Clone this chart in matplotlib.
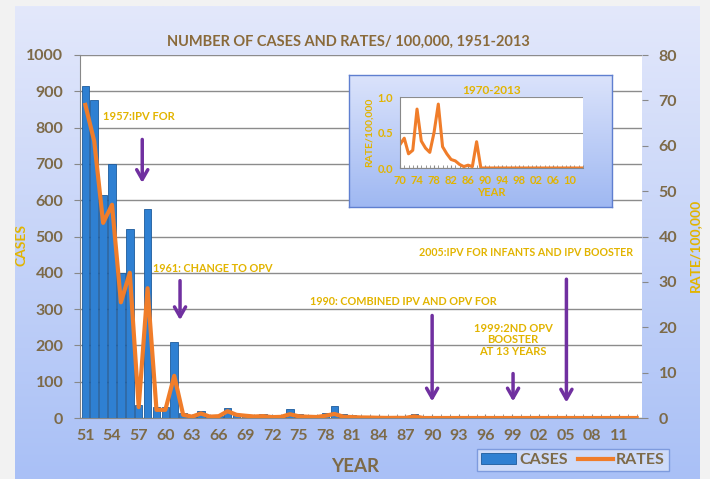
import numpy as np
import matplotlib
matplotlib.use("Agg")
import matplotlib.pyplot as plt
from matplotlib.colors import LinearSegmentedColormap

# --- data -------------------------------------------------------------
years = list(range(1951, 2014))

cases = [915, 875, 615, 700, 400, 520, 36, 575, 30, 30,
         208, 15, 5, 20, 3, 5, 28, 8, 5, 5,
         12, 3, 5, 25, 12, 5, 5, 15, 33, 10,
         8, 5, 3, 2, 1, 2, 2, 12] + [0] * 25

rates = [69, 61, 43, 47, 25.5, 32, 2.4, 28.6, 1.8, 1.8,
         9.3, 0.7, 0.3, 1.0, 0.3, 0.4, 1.5, 0.7, 0.5,
         0.33, 0.42, 0.2, 0.25, 0.83, 0.38, 0.28, 0.22, 0.5, 0.9, 0.3,
         0.2, 0.12, 0.1, 0.05, 0.02, 0.04, 0.02, 0.37] + [0] * 25

inset_years = years[19:]
inset_rates = rates[19:]

main_ticks = list(range(1951, 2014, 3))
main_ticklabels = [str(y)[2:] for y in main_ticks]
inset_ticks = list(range(1970, 2013, 4))
inset_ticklabels = [str(y)[2:] for y in inset_ticks]

# --- style ------------------------------------------------------------
plt.rcParams["font.family"] = ["Lato", "DejaVu Sans"]
plt.rcParams["font.weight"] = "bold"
plt.rcParams["axes.labelweight"] = "bold"
plt.rcParams["axes.titleweight"] = "bold"

BROWN = "#7d6a48"
GOLD = "#e2b400"
PURPLE = "#7030a0"
ORANGE = "#f07d2a"
BLUE = "#2f80d2"

fig = plt.figure(figsize=(7.10, 4.79), dpi=100)
fig.patch.set_facecolor("#f2f2f2")

# gradient background panel
bg = fig.add_axes([15 / 710, 0, 685 / 710, 1 - 6 / 479])
bg.set_axis_off()
grad = np.linspace(0, 1, 256).reshape(-1, 1)
cmap_bg = LinearSegmentedColormap.from_list("bg", ["#e3e8fb", "#a9c0f6"])
bg.imshow(grad, aspect="auto", cmap=cmap_bg, extent=[0, 1, 0, 1])
bg.set_zorder(-10)

# --- main chart -------------------------------------------------------
ax = fig.add_axes([80 / 710, 1 - 418 / 479, 562 / 710, 363 / 479])
ax.set_facecolor("white")
ax.bar(years, cases, width=0.85, color=BLUE, edgecolor="#1d5b9c",
       linewidth=0.6, label="CASES", zorder=2)
ax.set_xlim(1950.4, 2013.6)
ax.set_ylim(0, 1000)
ax.set_yticks(range(0, 1001, 100))
ax.grid(axis="y", color="#8c8c8c", linewidth=1)
ax.set_axisbelow(True)
ax.set_xticks(main_ticks)
ax.set_xticklabels(main_ticklabels)
ax.set_xticks(years, minor=True)
ax.tick_params(axis="x", which="both", direction="in", length=3,
               color="#888888", labelsize=11.5, labelcolor=BROWN, pad=8)
ax.tick_params(axis="y", length=4, color="#888888", labelsize=11.5,
               labelcolor=BROWN, pad=8)
for s in ["top", "right"]:
    ax.spines[s].set_visible(False)
ax.spines["left"].set_color("#888888")
ax.spines["bottom"].set_color("#888888")

ax2 = ax.twinx()
ax2.plot(years, rates, color=ORANGE, linewidth=3, label="RATES", zorder=3)
ax2.set_ylim(0, 80)
ax2.set_yticks(range(0, 81, 10))
ax2.tick_params(axis="y", length=4, color="#888888", labelsize=11.5,
                labelcolor=BROWN, pad=8)
for s in ["top", "left", "bottom", "right"]:
    ax2.spines[s].set_visible(False)

fig.text(22 / 710, 1 - 245 / 479, "CASES", rotation=90, color=GOLD,
         fontsize=10, ha="center", va="center")
fig.text(695 / 710, 1 - 245 / 479, "RATE/100,000", rotation=90, color=GOLD,
         fontsize=10, ha="center", va="center")
fig.text(355 / 710, 1 - 467 / 479, "YEAR", color=BROWN, fontsize=13.5,
         ha="center", va="center")
fig.text(348 / 710, 1 - 42 / 479, "NUMBER OF CASES AND RATES/ 100,000, 1951-2013",
         ha="center", va="center", color="#8a6a3a", fontsize=10.5)

# annotations with arrows
ARROW = dict(arrowstyle="->,head_length=0.7,head_width=0.4", color=PURPLE, lw=2.5)

ax.annotate("", xy=(1957.4, 640), xytext=(1957.4, 775), arrowprops=ARROW)
ax.text(1953.0, 830, "1957:IPV FOR", color=GOLD, fontsize=8, va="center")

ax.annotate("", xy=(1961.65, 262), xytext=(1961.65, 386), arrowprops=ARROW)
ax.text(1958.6, 411, "1961: CHANGE TO OPV", color=GOLD, fontsize=7.8, va="center")

ax.annotate("", xy=(1990, 38), xytext=(1990, 290), arrowprops=ARROW)
ax.text(1976.3, 320, "1990: COMBINED IPV AND OPV FOR", color=GOLD,
        fontsize=7.8, va="center")

ax.annotate("", xy=(1999.1, 38), xytext=(1999.1, 130), arrowprops=ARROW)
ax.text(1999.1, 215, "1999:2ND OPV\nBOOSTER\nAT 13 YEARS", color=GOLD,
        fontsize=8, ha="center", va="center", linespacing=1.1)

ax.annotate("", xy=(2005.1, 35), xytext=(2005.1, 390), arrowprops=ARROW)
ax.text(2000.6, 455, "2005:IPV FOR INFANTS AND IPV BOOSTER", color=GOLD,
        fontsize=7.7, ha="center", va="center")

# legend
h1, l1 = ax.get_legend_handles_labels()
h2, l2 = ax2.get_legend_handles_labels()
leg = fig.legend(h1 + h2, l1 + l2, loc="center",
                 bbox_to_anchor=(573 / 710, 1 - 460 / 479), ncol=2,
                 frameon=True, fontsize=11.5, handlelength=2.2,
                 handletextpad=0.2, columnspacing=0.6,
                 borderpad=0.25, fancybox=False)
leg.get_frame().set_edgecolor("#6f8fd8")
leg.get_frame().set_facecolor("#d8e2fb")
for t in leg.get_texts():
    t.set_color(BROWN)

# --- inset ------------------------------------------------------------
box = fig.add_axes([349 / 710, 1 - 207 / 479, 263 / 710, 132 / 479])
box.set_xticks([])
box.set_yticks([])
cmap_box = LinearSegmentedColormap.from_list("box", ["#dbe3fb", "#9fb8f2"])
box.imshow(grad, aspect="auto", cmap=cmap_box, extent=[0, 1, 0, 1])
for s in box.spines.values():
    s.set_color("#5f7fd0")
    s.set_linewidth(1)

ins = fig.add_axes([400 / 710, 1 - 168 / 479, 183 / 710, 71 / 479])
ins.set_facecolor("white")
ins.plot(inset_years, inset_rates, color=ORANGE, linewidth=2.2)
ins.set_xlim(1970, 2013)
ins.set_ylim(0, 1.0)
ins.set_yticks([0.0, 0.5, 1.0])
ins.set_yticklabels(["0.0", "0.5", "1.0"])
ins.grid(axis="y", color="#8c8c8c", linewidth=0.8)
ins.set_axisbelow(True)
ins.set_xticks(inset_ticks)
ins.set_xticklabels(inset_ticklabels)
ins.set_xticks(inset_years, minor=True)
ins.tick_params(axis="x", which="both", direction="in", length=2,
                color="#888888", labelsize=8, labelcolor=GOLD, pad=5)
ins.tick_params(axis="y", length=0, labelsize=8, labelcolor=GOLD, pad=5)
for s in ["top", "right"]:
    ins.spines[s].set_visible(False)
ins.spines["left"].set_color("#888888")
ins.spines["bottom"].set_color("#888888")
ins.set_title("1970-2013", color=GOLD, fontsize=8.5, pad=2)
ins.set_xlabel("YEAR", color=GOLD, fontsize=8, labelpad=1)
ins.set_ylabel("RATE/100,000", color=GOLD, fontsize=7.5, labelpad=3)

fig.savefig("out.png", dpi=100, facecolor=fig.get_facecolor())
